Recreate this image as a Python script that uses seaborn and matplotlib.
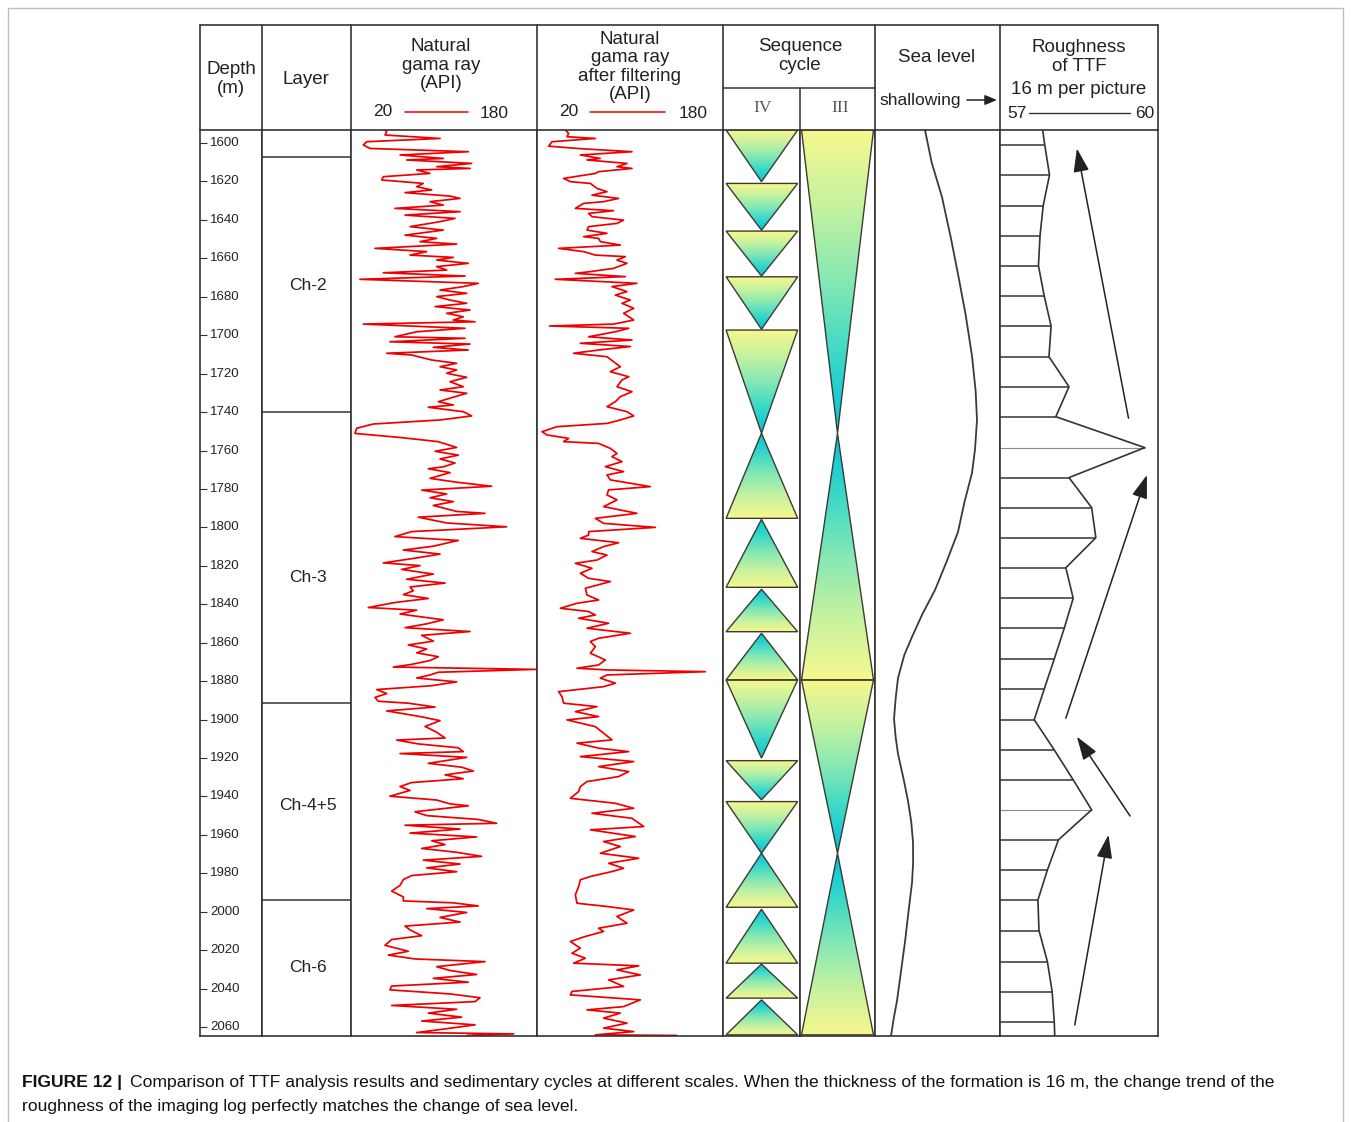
import numpy as np
import matplotlib.pyplot as plt
import seaborn as sns
from matplotlib.colors import LinearSegmentedColormap
from matplotlib.patches import Polygon, Rectangle

# depth range of the log (m)
depth_top, depth_bottom = 1593.2, 2064.7
depth_ticks = list(range(1600, 2061, 20))

# layers
layer_bounds = [1607.0, 1740.0, 1891.4, 1994.0]
layer_names = ['Ch-2', 'Ch-3', 'Ch-4+5', 'Ch-6']
layer_label_depth = [1674.0, 1826.0, 1945.0, 2029.0]

# natural gamma ray (API)
gr_depth = [1593.3, 1594.1, 1595.8, 1597.6, 1599.3, 1601.0, 1602.8, 1604.5, 1606.2, 1608.0, 1608.8, 1610.6,
            1612.3, 1613.2, 1614.0, 1615.8, 1617.5, 1619.2, 1621.0, 1622.7, 1624.4, 1625.8, 1627.6, 1628.8,
            1630.5, 1632.3, 1634.0, 1635.7, 1637.5, 1639.2, 1640.9, 1643.5, 1645.3, 1647.9, 1649.6, 1651.3,
            1652.6, 1654.8, 1656.5, 1658.3, 1659.5, 1660.9, 1662.6, 1664.3, 1666.1, 1667.5, 1669.2, 1670.9,
            1673.0, 1674.7, 1676.5, 1678.2, 1679.9, 1681.7, 1683.4, 1685.1, 1686.9, 1688.6, 1690.4, 1692.1,
            1693.0, 1694.2, 1696.4, 1698.2, 1700.8, 1701.6, 1703.4, 1704.6, 1706.3, 1707.7, 1709.4, 1710.3,
            1712.9, 1714.6, 1716.4, 1718.1, 1719.8, 1721.9, 1724.2, 1726.8, 1728.5, 1730.2, 1732.8, 1734.6,
            1736.3, 1737.5, 1739.8, 1742.0, 1744.1, 1746.2, 1748.4, 1751.1, 1753.3, 1755.4, 1758.4, 1760.4,
            1762.4, 1764.4, 1766.5, 1768.5, 1769.5, 1771.5, 1774.5, 1776.5, 1778.6, 1780.6, 1782.6, 1784.6,
            1786.6, 1788.6, 1791.7, 1792.7, 1794.7, 1797.7, 1799.7, 1802.2, 1804.8, 1806.8, 1809.8, 1811.8,
            1813.9, 1815.9, 1818.5, 1819.9, 1821.9, 1824.3, 1827.0, 1829.0, 1831.0, 1833.0, 1835.0, 1837.0,
            1839.1, 1841.7, 1843.1, 1845.1, 1848.1, 1850.2, 1852.2, 1854.2, 1856.2, 1859.2, 1861.2, 1863.3,
            1865.3, 1867.3, 1869.3, 1871.3, 1872.7, 1873.9, 1875.4, 1876.8, 1878.4, 1880.4, 1882.4, 1884.4,
            1886.5, 1888.5, 1890.5, 1891.5, 1893.5, 1895.5, 1898.6, 1900.6, 1903.6, 1906.6, 1909.6, 1910.7,
            1912.7, 1914.7, 1916.7, 1917.7, 1919.7, 1922.8, 1924.8, 1926.8, 1928.8, 1930.8, 1932.8, 1934.9,
            1936.9, 1939.9, 1941.9, 1943.9, 1944.9, 1948.0, 1950.0, 1952.0, 1954.0, 1955.0, 1957.0, 1959.1,
            1961.1, 1963.1, 1965.1, 1967.1, 1969.1, 1971.2, 1973.2, 1975.2, 1977.2, 1979.2, 1981.2, 1983.3,
            1986.3, 1989.3, 1992.3, 1994.4, 1995.4, 1997.0, 1998.4, 2000.4, 2003.0, 2005.4, 2007.5, 2009.5,
            2012.5, 2014.5, 2017.5, 2020.6, 2022.6, 2024.6, 2026.0, 2028.6, 2030.6, 2032.7, 2034.7, 2036.7,
            2038.7, 2040.7, 2042.8, 2044.8, 2046.8, 2048.8, 2050.8, 2052.8, 2054.9, 2056.9, 2058.9, 2060.9,
            2062.9, 2063.6, 2064.4]
gr_api = [49.2, 50.7, 49.2, 96.6, 33.5, 30.6, 36.3, 120.9, 62.2, 99.4, 67.9, 123.8,
          93.7, 122.4, 76.5, 88.0, 47.8, 46.4, 82.2, 76.5, 89.4, 66.5, 105.2, 113.8,
          88.0, 99.4, 57.8, 113.8, 66.5, 109.5, 96.6, 70.8, 99.4, 66.5, 93.7, 79.4,
          110.9, 40.6, 85.1, 70.8, 108.0, 93.7, 120.9, 93.7, 102.3, 47.8, 118.1, 27.7,
          129.5, 116.6, 96.6, 119.5, 93.7, 105.2, 119.5, 92.3, 122.4, 102.3, 116.6, 108.0,
          126.7, 30.6, 118.1, 76.5, 57.8, 118.1, 53.5, 122.4, 90.8, 120.9, 50.7, 72.2,
          89.4, 110.9, 96.6, 110.9, 102.3, 119.5, 105.2, 116.6, 96.6, 119.5, 105.2, 95.1,
          108.0, 86.5, 116.6, 123.8, 96.6, 39.2, 24.9, 23.4, 63.6, 95.1, 110.9, 92.3,
          112.3, 96.6, 109.5, 99.4, 86.5, 105.2, 88.0, 110.9, 141.0, 80.8, 102.3, 88.0,
          108.0, 90.8, 110.9, 135.3, 77.9, 102.3, 153.9, 72.2, 57.8, 112.3, 90.8, 65.0,
          96.6, 76.5, 47.8, 79.4, 63.6, 90.8, 67.9, 100.9, 70.8, 73.6, 65.0, 86.5,
          57.8, 34.9, 76.5, 62.2, 99.4, 85.1, 66.5, 122.4, 80.8, 90.8, 69.3, 85.1,
          76.5, 95.1, 88.0, 72.2, 56.4, 179.1, 95.1, 88.0, 76.5, 110.9, 89.4, 42.1,
          50.7, 40.6, 43.5, 69.3, 92.3, 50.7, 80.8, 96.6, 83.7, 93.7, 100.9, 59.3,
          77.9, 112.3, 116.6, 62.2, 119.5, 86.5, 115.2, 125.2, 100.9, 116.6, 72.2, 62.2,
          70.8, 53.5, 93.7, 105.2, 120.9, 75.0, 85.1, 129.5, 145.3, 66.5, 113.8, 70.8,
          128.1, 89.4, 100.9, 80.8, 110.9, 132.4, 82.2, 113.8, 85.1, 110.9, 72.2, 65.0,
          62.2, 55.0, 65.0, 65.0, 108.0, 129.5, 85.1, 119.5, 96.6, 113.8, 66.5, 70.8,
          80.8, 55.0, 49.2, 69.3, 52.1, 75.0, 135.3, 93.7, 105.2, 128.1, 90.8, 120.9,
          55.0, 53.5, 105.2, 131.0, 126.7, 55.0, 110.9, 86.5, 115.2, 80.8, 126.7, 102.3,
          76.5, 160.0, 120.0]

# natural gamma ray after filtering (API)
grf_depth = [1593.2, 1595.0, 1596.7, 1597.6, 1599.3, 1601.6, 1602.8, 1604.5, 1606.2, 1608.0, 1608.8, 1610.6,
             1612.3, 1613.2, 1614.9, 1615.8, 1618.4, 1620.1, 1621.0, 1623.6, 1625.3, 1627.1, 1628.8, 1630.5,
             1631.4, 1634.0, 1635.2, 1636.6, 1638.3, 1640.1, 1641.8, 1643.5, 1645.3, 1647.0, 1648.7, 1649.6,
             1651.3, 1653.1, 1654.8, 1656.5, 1658.3, 1659.1, 1660.9, 1662.6, 1665.2, 1666.9, 1667.8, 1669.5,
             1670.9, 1673.0, 1674.7, 1677.3, 1679.1, 1681.7, 1683.4, 1686.0, 1688.6, 1692.1, 1694.2, 1695.2,
             1696.4, 1698.2, 1700.8, 1702.5, 1704.2, 1705.9, 1707.7, 1709.4, 1711.2, 1713.8, 1716.4, 1719.0,
             1721.6, 1723.3, 1726.8, 1729.4, 1732.0, 1734.6, 1737.2, 1739.8, 1742.0, 1744.1, 1745.9, 1747.6,
             1750.2, 1751.9, 1753.7, 1755.4, 1756.3, 1758.9, 1761.5, 1763.2, 1765.8, 1768.4, 1771.0, 1772.7,
             1775.3, 1778.8, 1780.5, 1783.1, 1785.7, 1789.2, 1792.7, 1795.3, 1797.9, 1800.0, 1802.2, 1804.0,
             1805.7, 1808.0, 1810.0, 1812.6, 1814.4, 1817.0, 1818.7, 1821.3, 1823.9, 1826.5, 1828.2, 1831.7,
             1835.2, 1837.8, 1839.5, 1842.1, 1843.8, 1845.6, 1847.3, 1849.9, 1852.5, 1855.1, 1857.7, 1859.4,
             1862.1, 1865.5, 1869.0, 1871.6, 1873.3, 1874.2, 1875.1, 1876.8, 1878.5, 1881.1, 1882.9, 1885.5,
             1888.1, 1891.5, 1893.3, 1895.9, 1898.5, 1900.2, 1903.7, 1907.1, 1910.6, 1912.3, 1914.9, 1916.7,
             1919.3, 1921.9, 1924.5, 1927.1, 1929.7, 1932.3, 1934.9, 1937.5, 1941.0, 1943.6, 1946.2, 1948.8,
             1951.4, 1955.7, 1957.4, 1960.9, 1963.5, 1966.1, 1969.6, 1972.2, 1974.8, 1977.4, 1979.1, 1981.7,
             1983.4, 1986.9, 1991.3, 1995.6, 1997.3, 1999.1, 2002.5, 2006.0, 2008.6, 2010.3, 2012.9, 2015.5,
             2019.0, 2021.6, 2024.2, 2026.8, 2028.2, 2030.3, 2032.9, 2035.5, 2038.9, 2041.5, 2043.3, 2045.9,
             2049.4, 2051.1, 2052.8, 2055.4, 2058.0, 2060.6, 2062.4, 2064.1, 2064.4]
grf_api = [44.4, 47.2, 45.8, 70.2, 32.9, 30.0, 54.4, 101.7, 57.3, 74.5, 63.0, 97.4,
           88.8, 101.7, 73.0, 70.2, 42.9, 48.7, 65.9, 71.6, 80.2, 67.3, 90.2, 77.3,
           60.1, 53.0, 85.9, 64.4, 67.3, 94.5, 88.8, 64.4, 63.0, 80.2, 60.1, 73.0,
           74.5, 91.7, 38.6, 60.1, 70.2, 96.0, 88.8, 97.4, 85.9, 65.9, 53.0, 96.0,
           35.8, 106.0, 84.5, 97.4, 87.4, 100.3, 93.1, 103.2, 94.5, 103.2, 85.9, 30.9,
           98.9, 87.4, 64.4, 101.7, 57.3, 100.3, 73.0, 51.5, 80.2, 85.9, 91.7, 83.1,
           98.9, 93.1, 88.8, 101.7, 91.7, 87.4, 80.2, 97.4, 103.2, 91.7, 80.2, 37.2,
           24.3, 28.6, 47.2, 42.9, 73.0, 83.1, 88.8, 84.5, 93.1, 78.8, 94.5, 80.2,
           83.1, 117.5, 81.6, 80.2, 88.8, 77.3, 106.0, 70.2, 77.3, 121.8, 64.4, 64.4,
           57.3, 90.2, 77.3, 67.3, 80.2, 71.6, 53.0, 67.3, 57.3, 64.4, 83.1, 61.6,
           63.0, 73.0, 54.4, 40.1, 64.4, 70.2, 55.8, 81.6, 63.0, 100.3, 73.0, 65.9,
           70.2, 65.9, 78.8, 73.0, 54.4, 80.2, 164.8, 80.2, 74.5, 87.4, 77.3, 38.6,
           41.5, 42.9, 71.6, 53.0, 73.0, 45.8, 70.2, 77.3, 84.5, 54.4, 73.0, 98.9,
           57.3, 103.2, 73.0, 98.9, 90.2, 63.0, 57.3, 55.8, 48.7, 87.4, 103.2, 67.3,
           101.7, 111.8, 65.9, 104.6, 77.3, 91.7, 74.5, 107.5, 81.6, 94.5, 84.5, 65.9,
           57.3, 55.8, 53.0, 54.4, 80.2, 103.2, 88.8, 97.4, 73.0, 77.3, 61.6, 48.7,
           57.3, 50.1, 61.6, 51.5, 107.5, 88.8, 108.9, 81.6, 94.5, 50.1, 48.7, 108.9,
           94.5, 63.0, 91.7, 77.3, 97.4, 77.3, 103.2, 70.2, 140.0]

# sequence cycles: top, bottom, shape ('v' = wide top, '^' = wide bottom)
cyc4_top = [1593.2, 1621.0, 1645.8, 1669.6, 1697.3, 1751.0, 1795.8, 1832.2,
            1855.1, 1879.4, 1921.4, 1942.7, 1969.6, 1998.7, 2027.3, 2045.9]
cyc4_bot = [1620.1, 1645.3, 1669.2, 1696.9, 1751.0, 1795.3, 1831.2, 1854.3,
            1879.4, 1920.1, 1941.8, 1969.6, 1997.7, 2026.8, 2045.0, 2064.1]
cyc4_shape = ['v', 'v', 'v', 'v', 'v', '^', '^', '^', '^', 'v', 'v', 'v', '^', '^', '^', '^']
cyc3_top = [1593.2, 1751.0, 1879.4, 1969.6]
cyc3_bot = [1751.0, 1879.4, 1969.6, 2064.1]
cyc3_shape = ['v', '^', 'v', '^']

# sea level (relative, 0 = deep, 1 = shallow)
sea_depth = [1593.2, 1610.0, 1628.1, 1649.7, 1668.2, 1689.3, 1710.8, 1729.0, 1744.1, 1759.5,
             1771.7, 1787.0, 1802.4, 1817.5, 1832.6, 1845.0, 1857.0, 1866.3, 1878.4, 1889.2,
             1899.7, 1909.0, 1917.9, 1930.4, 1942.3, 1953.3, 1963.7, 1974.6, 1985.0, 2000.5,
             2015.7, 2031.1, 2046.4, 2055.5, 2064.7]
sea_level = [0.400, 0.453, 0.536, 0.608, 0.664, 0.725, 0.776, 0.805, 0.816, 0.800,
             0.776, 0.715, 0.664, 0.575, 0.480, 0.380, 0.296, 0.235, 0.184, 0.165,
             0.152, 0.165, 0.184, 0.227, 0.264, 0.290, 0.304, 0.305, 0.296, 0.267,
             0.240, 0.208, 0.176, 0.150, 0.128]

# roughness of TTF, 16 m per picture
ttf_depth = [1593.2, 1601.0, 1616.6, 1632.6, 1648.2, 1663.8, 1679.6, 1695.2, 1711.2, 1726.8,
             1742.4, 1758.5, 1774.1, 1789.7, 1805.4, 1821.0, 1836.9, 1852.5, 1868.5, 1884.1,
             1900.1, 1915.8, 1931.4, 1947.0, 1962.6, 1978.3, 1993.9, 2009.8, 2026.0, 2041.6,
             2057.2, 2064.7]
ttf_rough = [57.81, 57.85, 57.94, 57.82, 57.76, 57.73, 57.84, 57.97, 57.93, 58.31,
             58.06, 59.75, 58.31, 58.74, 58.82, 58.25, 58.39, 58.22, 58.03, 57.84,
             57.65, 58.03, 58.39, 58.74, 58.11, 57.90, 57.72, 57.74, 57.90, 57.99,
             58.03, 58.04]
ttf_peaks = [1758.5, 1947.0]
# trend arrows (tail -> head) as (roughness, depth)
trend_tail = [(59.44, 1743.2), (58.25, 1899.3), (59.47, 1950.2), (58.42, 2058.9)]
trend_head = [(58.46, 1602.8), (59.79, 1772.7), (58.46, 1908.9), (59.06, 1960.0)]

caption_bold = 'FIGURE 12 |'
caption_1 = ('Comparison of TTF analysis results and sedimentary cycles at different scales. '
             'When the thickness of the formation is 16 m, the change trend of the')
caption_2 = 'roughness of the imaging log perfectly matches the change of sea level.'

sns.set_theme(style='white')
plt.rcParams['font.family'] = ['Liberation Sans', 'DejaVu Sans']

W, H = 1352, 1122
fig = plt.figure(figsize=(W / 100, H / 100), dpi=100)
LINE = '#333333'
TXT = '#222222'


def px_axes(x0, x1, y0, y1):
    return fig.add_axes([x0 / W, 1 - y1 / H, (x1 - x0) / W, (y1 - y0) / H])


cols = {'depth': (200, 262), 'layer': (262, 351), 'gr': (351, 537), 'grf': (537, 723),
        'iv': (723, 800), 'iii': (800, 875), 'sea': (875, 1000), 'rough': (1000, 1158)}
body_top, body_bot = 130, 1036

axes = {}
for key, (x0, x1) in cols.items():
    ax = px_axes(x0, x1, body_top, body_bot)
    ax.set_ylim(depth_bottom, depth_top)
    ax.set_xticks([])
    ax.set_yticks([])
    for sp in ax.spines.values():
        sp.set_color(LINE)
        sp.set_linewidth(1.2)
    axes[key] = ax

# depth column
ax = axes['depth']
ax.set_xlim(0, 1)
ax.set_yticks(depth_ticks)
ax.set_yticklabels([])
ax.tick_params(axis='y', left=True, direction='in', length=5, width=0.8, color=LINE)
for d in depth_ticks:
    ax.text(0.16, d, str(d), fontsize=9.5, color=TXT, ha='left', va='center')

# layer column
ax = axes['layer']
ax.set_xlim(0, 1)
ax.hlines(layer_bounds, 0, 1, color=LINE, lw=1.1)
for name, d in zip(layer_names, layer_label_depth):
    ax.text(0.52, d, name, fontsize=12.5, color=TXT, ha='center', va='center')

# gamma ray curves
for key, dd, vv in [('gr', gr_depth, gr_api), ('grf', grf_depth, grf_api)]:
    ax = axes[key]
    sns.lineplot(x=vv, y=dd, sort=False, estimator=None, color='#ee0000', linewidth=1.25, ax=ax)
    ax.set_xlim(20, 180)
    ax.set_ylim(depth_bottom, depth_top)

# sequence cycles with gradient fill
cyc_cmap = LinearSegmentedColormap.from_list(
    'cyc', ['#00c3df', '#3ad8c8', '#86e8b3', '#c6f2a0', '#f7f78e'])


def draw_cycles(ax, tops, bots, shapes, x0, x1):
    for t, b, s in zip(tops, bots, shapes):
        if s == 'v':
            pts = [(x0, t), (x1, t), (0.5, b)]
            grad = np.linspace(1, 0, 200)
        else:
            pts = [(0.5, t), (x1, b), (x0, b)]
            grad = np.linspace(0, 1, 200)
        poly = Polygon(pts, closed=True, fc='none', ec='#3b3b30', lw=1.0, zorder=3)
        ax.add_patch(poly)
        im = ax.imshow(grad.reshape(-1, 1), cmap=cyc_cmap, vmin=0, vmax=1,
                       extent=(x0, x1, b, t), origin='upper', aspect='auto', zorder=2)
        im.set_clip_path(poly)
    ax.set_xlim(0, 1)
    ax.set_ylim(depth_bottom, depth_top)


draw_cycles(axes['iv'], cyc4_top, cyc4_bot, cyc4_shape, 0.04, 0.97)
draw_cycles(axes['iii'], cyc3_top, cyc3_bot, cyc3_shape, 0.02, 0.98)

# sea level
ax = axes['sea']
sns.lineplot(x=sea_level, y=sea_depth, sort=False, estimator=None, color='#3a3a3a', linewidth=1.3, ax=ax)
ax.set_xlim(0, 1)
ax.set_ylim(depth_bottom, depth_top)

# roughness of TTF
ax = axes['rough']
for d, v in zip(ttf_depth[1:-1], ttf_rough[1:-1]):
    thin = d in ttf_peaks
    ax.hlines(d, 57, v, color='#8a8a8a' if thin else LINE, lw=0.8 if thin else 1.1)
sns.lineplot(x=ttf_rough, y=ttf_depth, sort=False, estimator=None, color=LINE, linewidth=1.2, ax=ax)
for tail, head in zip(trend_tail, trend_head):
    ax.annotate('', xy=head, xytext=tail,
                arrowprops=dict(arrowstyle='-|>,head_length=0.9,head_width=0.3',
                                color='#222222', lw=1.1, mutation_scale=16, shrinkA=0, shrinkB=0))
ax.set_xlim(57, 60)
ax.set_ylim(depth_bottom, depth_top)

for ax in axes.values():
    ax.set_xlabel('')
    ax.set_ylabel('')

# header
hdr = px_axes(200, 1158, 25, 130)
hdr.set_xlim(200, 1158)
hdr.set_ylim(130, 25)
hdr.axis('off')
hdr.plot([200, 1158], [25, 25], color=LINE, lw=1.2, clip_on=False)
for x in [200, 262, 351, 537, 723, 875, 1000, 1158]:
    hdr.plot([x, x], [25, 130], color=LINE, lw=1.2, clip_on=False)
hdr.plot([723, 875], [88, 88], color=LINE, lw=1.1)
hdr.plot([800, 800], [88, 130], color=LINE, lw=1.1)

hs = dict(fontsize=13.5, color=TXT, ha='center', va='center', linespacing=1.1)
hdr.text(231, 79, 'Depth\n(m)', **hs)
hdr.text(306, 80, 'Layer', **hs)
hdr.text(441, 65, 'Natural\ngama ray\n(API)', **hs)
hdr.text(630, 67, 'Natural\ngama ray\nafter filtering\n(API)', **hs)
hdr.text(800, 56, 'Sequence\ncycle', **hs)
hdr.text(937, 58, 'Sea level', **hs)
hdr.text(1079, 57, 'Roughness\nof TTF', **hs)
hdr.text(1079, 89, '16 m per picture', **hs)

sc = dict(fontsize=12.5, color=TXT, va='center')
hdr.text(383, 112, '20', ha='center', **sc)
hdr.plot([405, 468], [112, 112], color='#ee0000', lw=1.1)
hdr.text(494, 113, '180', ha='center', **sc)
hdr.text(569, 112, '20', ha='center', **sc)
hdr.plot([590, 665], [112, 112], color='#ee0000', lw=1.1)
hdr.text(693, 113, '180', ha='center', **sc)
hdr.text(1007, 113, '57', ha='left', **sc)
hdr.plot([1029, 1130], [113, 113], color=LINE, lw=1.0)
hdr.text(1154, 113, '60', ha='right', **sc)
hdr.text(763, 108, 'IV', ha='center', fontsize=12.5, color='#555555', va='center', family='Liberation Serif')
hdr.text(840, 108, 'III', ha='center', fontsize=12.5, color='#555555', va='center', family='Liberation Serif')
hdr.text(879, 100, 'shallowing', ha='left', **sc)
hdr.annotate('', xy=(997, 100), xytext=(967, 100),
             arrowprops=dict(arrowstyle='-|>,head_length=0.6,head_width=0.25', color='#222222',
                             lw=1.1, mutation_scale=12, shrinkA=0, shrinkB=0))

# page frame and caption
fig.add_artist(Rectangle((8 / W, -0.05), 1335 / W, 1.05 - 8 / H, transform=fig.transFigure,
                         fill=False, ec='#bdbdbd', lw=1.0))
fig.text(22 / W, 1 - 1082 / H, caption_bold, fontsize=12.6, weight='bold', color='#111111', va='center')
fig.text(130 / W, 1 - 1082 / H, caption_1, fontsize=12.6, color='#111111', va='center')
fig.text(22 / W, 1 - 1107 / H, caption_2, fontsize=12.6, color='#111111', va='center')

fig.savefig('out.png', dpi=100)
